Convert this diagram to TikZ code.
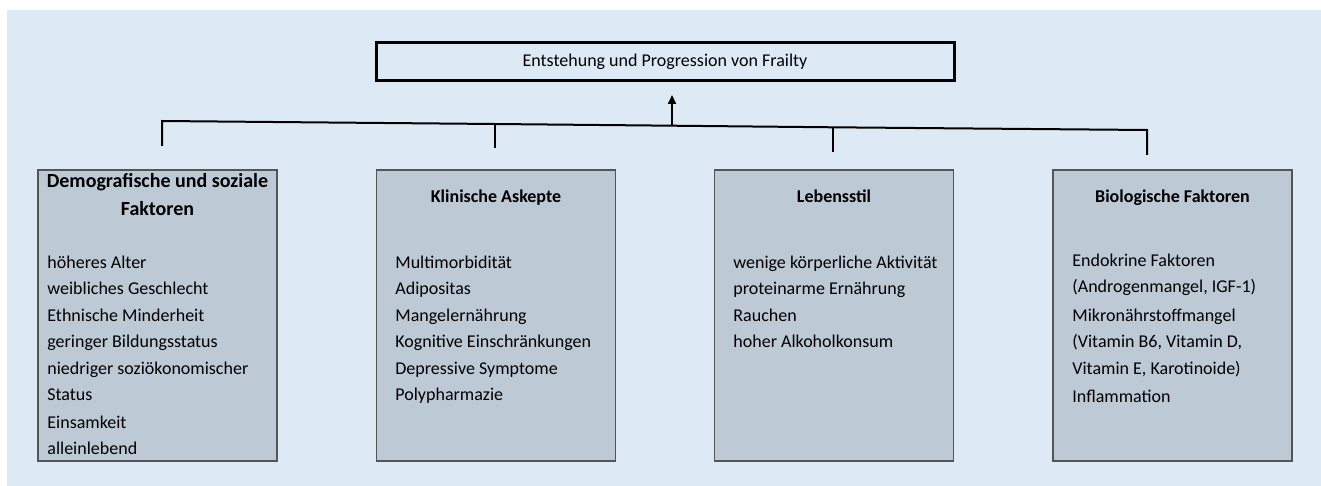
\documentclass[tikz,border=0pt]{standalone}
\usepackage{fontspec}
\setmainfont{Carlito}
\usetikzlibrary{arrows.meta}
\definecolor{bgblue}{RGB}{221,234,246}
\definecolor{boxfill}{RGB}{190,201,214}
\definecolor{boxline}{RGB}{85,85,85}
\begin{document}
\begin{tikzpicture}[x=0.5pt,y=-0.5pt,
  factorbox/.style={draw=boxline,line width=0.6pt,fill=boxfill,inner sep=0pt,outer sep=0pt,minimum width=119.5pt,minimum height=145.5pt},
  topbox/.style={draw=black,line width=1.5pt,inner sep=0pt,minimum width=289pt,minimum height=19pt,font=\fontsize{9}{10}\selectfont},
  boxtitle/.style={font=\fontsize{9}{10}\selectfont\bfseries,inner sep=0pt,anchor=base},
  bigtitle/.style={font=\fontsize{10}{14}\selectfont\bfseries,align=center,inner sep=0pt},
  entry/.style={font=\fontsize{9}{10}\selectfont,inner sep=0pt,anchor=base west},
  conn/.style={line width=1pt,black},
]
\useasboundingbox (0,0) rectangle (1321,486);
\fill[bgblue] (7,10) rectangle (1321,486);

% top box
\node[topbox] (top) at (665,62) {Entstehung und Progression von Frailty};

% factor boxes
\node[factorbox] (b1) at (157.5,315.5) {};
\node[factorbox] (b2) at (496,315.5) {};
\node[factorbox] (b3) at (834,315.5) {};
\node[factorbox] (b4) at (1172.5,315.5) {};

% titles
\node[bigtitle] (t1) at (157.5,195) {Demografische und soziale\\Faktoren};
\node[boxtitle] (t2) at (496,203) {Klinische Askepte};
\node[boxtitle] (t3) at (834,203) {Lebensstil};
\node[boxtitle] (t4) at (1172.5,203) {Biologische Faktoren};

% box 1 entries
\node[entry] (e11) at (47,268) {höheres Alter};
\node[entry] (e12) at (47,294.5) {weibliches Geschlecht};
\node[entry] (e13) at (47,321) {Ethnische Minderheit};
\node[entry] (e14) at (47,347.5) {geringer Bildungsstatus};
\node[entry] (e15) at (47,374) {niedriger soziökonomischer};
\node[entry] (e16) at (47,400.5) {Status};
\node[entry] (e17) at (47,428) {Einsamkeit};
\node[entry] (e18) at (47,454) {alleinlebend};

% box 2 entries
\node[entry] (e21) at (395,268) {Multimorbidität};
\node[entry] (e22) at (395,294.5) {Adipositas};
\node[entry] (e23) at (395,321) {Mangelernährung};
\node[entry] (e24) at (395,347.5) {Kognitive Einschränkungen};
\node[entry] (e25) at (395,374) {Depressive Symptome};
\node[entry] (e26) at (395,400.5) {Polypharmazie};

% box 3 entries
\node[entry] (e31) at (733,268) {wenige körperliche Aktivität};
\node[entry] (e32) at (733,294.5) {proteinarme Ernährung};
\node[entry] (e33) at (733,321) {Rauchen};
\node[entry] (e34) at (733,347.5) {hoher Alkoholkonsum};

% box 4 entries
\node[entry] (e41) at (1072,266) {Endokrine Faktoren};
\node[entry] (e42) at (1072,292.5) {(Androgenmangel, IGF-1)};
\node[entry] (e43) at (1072,321) {Mikronährstoffmangel};
\node[entry] (e44) at (1072,347.5) {(Vitamin B6, Vitamin D,};
\node[entry] (e45) at (1072,374) {Vitamin E, Karotinoide)};
\node[entry] (e46) at (1072,402) {Inflammation};

% connector bus
\coordinate (busL) at (162,121);
\coordinate (j2) at (495,124);
\coordinate (jA) at (672,125.7);
\coordinate (j3) at (833,127.3);
\coordinate (busR) at (1147,130);
\coordinate (d1) at (162,146);
\coordinate (d2) at (495,148);
\coordinate (d3) at (833,152);
\coordinate (d4) at (1147,155);
\coordinate (tip) at (672,95);

\draw[conn,line join=miter] (d1) -- (busL) -- (j2) -- (jA) -- (j3) -- (busR) -- (d4);
\draw[conn] (j2) -- (d2);
\draw[conn] (j3) -- (d3);
\draw[conn,-{Triangle[length=4.5pt,width=4pt]}] (jA) -- (tip);
\end{tikzpicture}
\end{document}
